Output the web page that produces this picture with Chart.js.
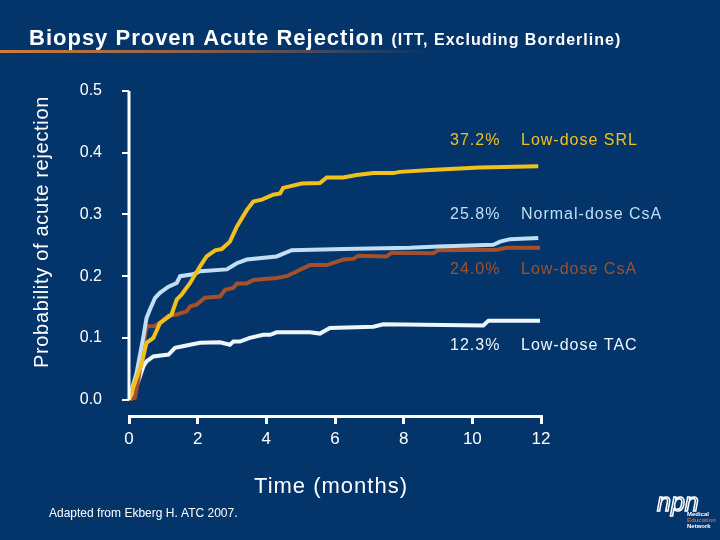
<!DOCTYPE html>
<html>
<head>
<meta charset="utf-8">
<script src="https://cdn.jsdelivr.net/npm/chart.js@4.4.1/dist/chart.umd.min.js"></script>
<style>
  html, body { margin: 0; padding: 0; background: #04356a; }
  #wrap { width: 720px; height: 540px; position: relative; }
</style>
</head>
<body>
<div id="wrap"><canvas id="bpar" width="720" height="540"></canvas></div>
<script>
// Kaplan-Meier style curves (months, probability)
const srlMonths = [0, 0.37, 0.51, 0.71, 0.90, 1.24, 1.29, 1.39, 1.53, 1.78, 2.07, 2.26, 2.51, 2.70, 2.94, 3.14, 3.43, 3.62, 3.87, 4.20, 4.40, 4.49, 5.03, 5.56, 5.76, 6.24, 6.63, 7.12, 7.70, 7.89, 8.77, 10.22, 11.92];
const srlRate   = [0, 0.059, 0.092, 0.100, 0.124, 0.138, 0.146, 0.162, 0.170, 0.189, 0.216, 0.232, 0.242, 0.244, 0.256, 0.280, 0.307, 0.321, 0.324, 0.332, 0.334, 0.343, 0.350, 0.351, 0.360, 0.360, 0.364, 0.367, 0.367, 0.369, 0.372, 0.376, 0.378];

const csaNormMonths = [0, 0.22, 0.42, 0.51, 0.61, 0.76, 0.90, 1.15, 1.39, 1.49, 1.87, 2.07, 2.85, 3.14, 3.43, 4.30, 4.74, 6.24, 8.19, 9.0, 10.61, 10.81, 11.10, 11.92];
const csaNormRate   = [0, 0.043, 0.102, 0.132, 0.146, 0.165, 0.173, 0.183, 0.189, 0.200, 0.203, 0.208, 0.211, 0.221, 0.227, 0.232, 0.242, 0.244, 0.246, 0.248, 0.251, 0.256, 0.260, 0.262];

const csaLowMonths = [0, 0.17, 0.27, 0.42, 0.51, 0.71, 0.90, 1.15, 1.39, 1.68, 1.78, 1.97, 2.21, 2.65, 2.80, 3.04, 3.14, 3.43, 3.62, 4.30, 4.59, 5.27, 5.76, 6.24, 6.53, 6.68, 7.50, 7.65, 8.86, 9.0, 10.72, 11.01, 11.97];
const csaLowRate   = [0, 0.003, 0.032, 0.086, 0.119, 0.119, 0.124, 0.136, 0.138, 0.143, 0.151, 0.154, 0.165, 0.167, 0.178, 0.181, 0.188, 0.188, 0.194, 0.197, 0.200, 0.218, 0.218, 0.227, 0.228, 0.233, 0.232, 0.238, 0.237, 0.242, 0.243, 0.246, 0.246];

const tacMonths = [0, 0.22, 0.42, 0.51, 0.71, 1.15, 1.34, 1.53, 1.78, 2.07, 2.65, 2.94, 3.04, 3.23, 3.52, 3.91, 4.11, 4.30, 5.27, 5.56, 5.85, 7.12, 7.41, 10.32, 10.47, 11.97];
const tacRate   = [0, 0.022, 0.054, 0.062, 0.070, 0.073, 0.084, 0.086, 0.089, 0.092, 0.093, 0.089, 0.094, 0.094, 0.100, 0.105, 0.105, 0.109, 0.109, 0.107, 0.116, 0.118, 0.122, 0.120, 0.128, 0.128];

const seriesNames = ['Low-dose SRL', 'Normal-dose CsA', 'Low-dose CsA', 'Low-dose TAC'];
const finalRates  = ['37.2%', '25.8%', '24.0%', '12.3%'];
const labelLevels = [0.419, 0.300, 0.211, 0.087];   // where the right-hand labels sit
const yTicks = [0, 0.1, 0.2, 0.3, 0.4, 0.5];
const xTicks = [0, 2, 4, 6, 8, 10, 12];

const colors = ['#f2c01c', '#c2def4', '#a4502a', '#eef6fd'];
const BG = '#04356a';

const toPoints = (xs, ys) => xs.map((x, i) => ({ x: x, y: ys[i] }));
const curves = [
    toPoints(srlMonths, srlRate),
    toPoints(csaNormMonths, csaNormRate),
    toPoints(csaLowMonths, csaLowRate),
    toPoints(tacMonths, tacRate)
];

const FONT = '"Liberation Sans", Arial, sans-serif';

const slideDecor = {
    id: 'slideDecor',
    beforeDraw(chart) {
        const c = chart.ctx;
        c.save();
        c.fillStyle = BG;
        c.fillRect(0, 0, chart.width, chart.height);
        c.restore();
    },
    afterDraw(chart) {
        const c = chart.ctx;
        const xs = chart.scales.x, ys = chart.scales.y;
        c.save();

        // underline swoosh
        const g = c.createLinearGradient(0, 0, 430, 0);
        g.addColorStop(0, 'rgba(210,125,60,1)');
        g.addColorStop(0.45, 'rgba(190,110,60,0.75)');
        g.addColorStop(1, 'rgba(190,110,60,0)');
        c.fillStyle = g;
        c.fillRect(0, 50, 430, 3);

        // title
        c.fillStyle = '#ffffff';
        c.textBaseline = 'alphabetic';
        c.textAlign = 'left';
        c.letterSpacing = '1px';
        c.font = 'bold 22px ' + FONT;
        c.fillText('Biopsy Proven Acute Rejection', 29, 45);
        const tw = c.measureText('Biopsy Proven Acute Rejection ').width;
        c.font = 'bold 16px ' + FONT;
        c.fillText('(ITT, Excluding Borderline)', 29 + tw, 45);

        // y axis line (stops at 0.0, x axis sits lower)
        c.letterSpacing = '0px';
        c.strokeStyle = '#ffffff';
        c.lineWidth = 3;
        c.beginPath();
        c.moveTo(xs.left, ys.getPixelForValue(0.5));
        c.lineTo(xs.left, ys.getPixelForValue(0));
        c.stroke();

        // y title
        c.save();
        c.translate(48, 232);
        c.rotate(-Math.PI / 2);
        c.textAlign = 'center';
        c.letterSpacing = '0.7px';
        c.font = '20px ' + FONT;
        c.fillStyle = '#ffffff';
        c.fillText('Probability of acute rejection', 0, 0);
        c.restore();

        // x title and source
        c.fillStyle = '#ffffff';
        c.textAlign = 'center';
        c.letterSpacing = '1px';
        c.font = '22px ' + FONT;
        c.fillText('Time (months)', 331, 493);
        c.letterSpacing = '0px';
        c.textAlign = 'left';
        c.font = '12px ' + FONT;
        c.fillText('Adapted from Ekberg H. ATC 2007.', 49, 517);

        // right-hand labels
        c.letterSpacing = '1px';
        c.font = '16px ' + FONT;
        c.textBaseline = 'middle';
        seriesNames.forEach((name, i) => {
            const y = ys.getPixelForValue(labelLevels[i]);
            c.fillStyle = colors[i];
            c.fillText(finalRates[i], 450, y);
            c.fillText(name, 521, y);
        });

        // logo
        c.letterSpacing = '0px';
        c.textBaseline = 'alphabetic';
        c.strokeStyle = '#ffffff';
        c.lineWidth = 1.5;
        c.font = 'italic 25px ' + FONT;
        c.strokeText('npn', 657, 511);
        c.fillStyle = '#ffffff';
        c.font = 'bold 6px ' + FONT;
        c.fillText('Medical', 687, 516);
        c.fillStyle = '#c8702e';
        c.fillText('Education', 687, 522);
        c.fillStyle = '#ffffff';
        c.fillText('Network', 687, 528);
        c.restore();
    }
};

new Chart(document.getElementById('bpar'), {
    type: 'line',
    data: {
        datasets: curves.map((pts, i) => ({
            label: seriesNames[i],
            data: pts,
            borderColor: colors[i],
            borderWidth: 4,
            pointRadius: 0,
            tension: 0,
            fill: false
        }))
    },
    options: {
        responsive: false,
        animation: false,
        devicePixelRatio: 1,
        layout: { padding: { left: 0, right: 179, top: 91, bottom: 84 } },
        plugins: { legend: { display: false }, tooltip: { enabled: false } },
        scales: {
            x: {
                type: 'linear',
                min: 0,
                max: 12,
                afterBuildTicks: s => { s.ticks = xTicks.map(v => ({ value: v })); },
                afterFit: s => { s.height = 40; },
                ticks: { color: '#ffffff', font: { family: FONT, size: 17 }, padding: 5 },
                grid: { drawOnChartArea: false, color: '#ffffff', lineWidth: 3, tickLength: 8 },
                border: { color: '#ffffff', width: 3 }
            },
            y: {
                min: -0.0265,
                max: 0.5,
                afterBuildTicks: s => { s.ticks = yTicks.map(v => ({ value: v })); },
                afterFit: s => { s.width = 129; },
                ticks: {
                    color: '#ffffff',
                    font: { family: FONT, size: 16 },
                    padding: 20,
                    callback: v => v.toFixed(1)
                },
                grid: { drawOnChartArea: false, color: '#ffffff', lineWidth: 2, tickLength: 7 },
                border: { display: false }
            }
        }
    },
    plugins: [slideDecor]
});
</script>
</body>
</html>
